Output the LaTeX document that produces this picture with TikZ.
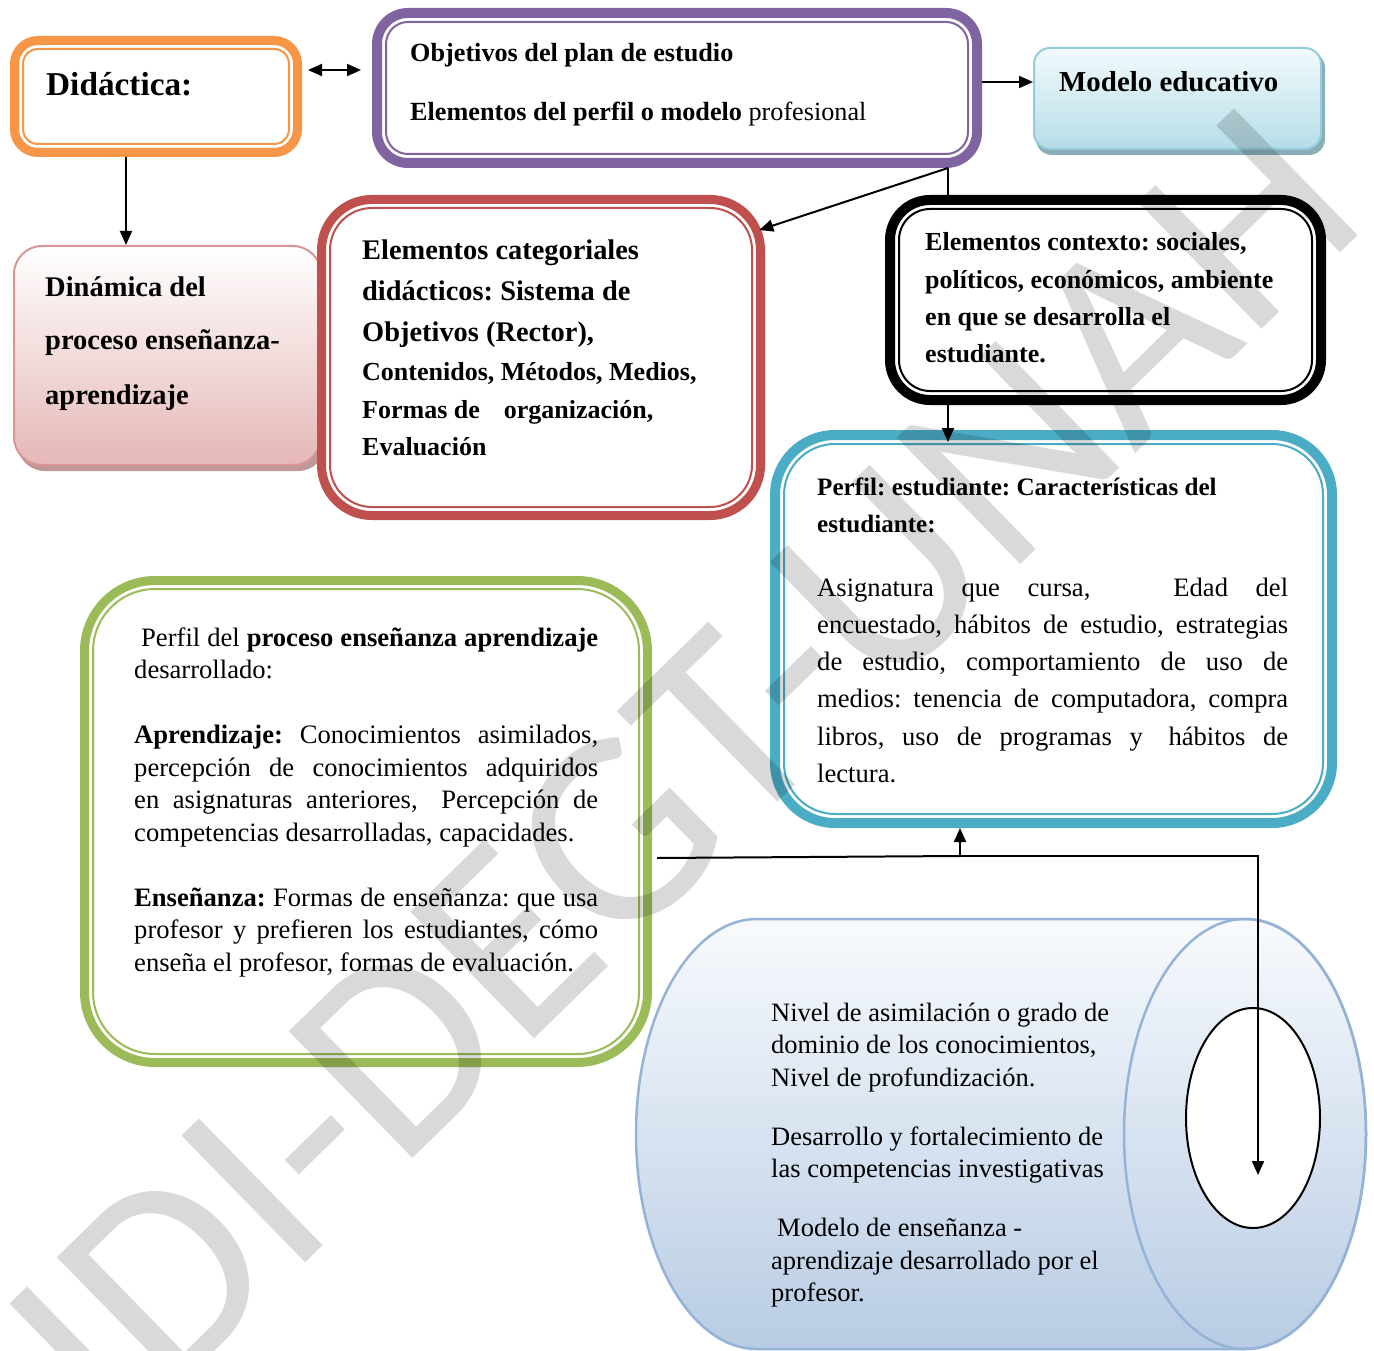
\documentclass[tikz,border=0pt]{standalone}
\usepackage{fontspec}
\setmainfont{Liberation Serif}
\newfontfamily\wmfont{Carlito}
\usetikzlibrary{arrows.meta,shapes.geometric}

\definecolor{orng}{HTML}{F79646}
\definecolor{purp}{HTML}{8064A2}
\definecolor{redc}{HTML}{C0504D}
\definecolor{cyanc}{HTML}{4BACC6}
\definecolor{grn}{HTML}{9BBB59}
\definecolor{mdtop}{HTML}{F2FAFC}
\definecolor{mdbot}{HTML}{B6DDE8}
\definecolor{mdline}{HTML}{93CDDD}
\definecolor{mdshad}{HTML}{8AAEB8}
\definecolor{pktop}{HTML}{FFFFFF}
\definecolor{pkbot}{HTML}{E5B8B7}
\definecolor{pkline}{HTML}{D99694}
\definecolor{pkshad}{HTML}{BF9796}
\definecolor{cytop}{HTML}{F8FAFD}
\definecolor{cybot}{HTML}{B8CCE4}
\definecolor{cyline}{HTML}{95B3D7}
\definecolor{wmgray}{HTML}{D9D9D9}

% one justified line of fixed width
\newcommand\jl[1]{\makebox[\linewidth][s]{#1}}

% thick-thin rounded frame: name, x1, y1, x2, y2, colour, thick width, outer radius
\newcommand\dfrm[8]{%
  \pgfmathsetmacro\dfw{#4-#2-#7}%
  \pgfmathsetmacro\dfh{#5-#3-#7}%
  \pgfmathsetmacro\dfr{#8-#7/2}%
  \pgfmathsetmacro\dfir{#8-#7-4}%
  \pgfmathsetmacro\dfcx{(#2+#4)/2}%
  \pgfmathsetmacro\dfcy{(#3+#5)/2}%
  \node[draw=#6, line width=#7pt, rounded corners=\dfr pt, fill=white,
        minimum width=\dfw pt, minimum height=\dfh pt, inner sep=0pt] (#1) at (\dfcx,\dfcy) {};
  \draw[#6, line width=2pt, rounded corners=\dfir pt]
        ({#2+#7+4},{#3+#7+4}) rectangle ({#4-#7-4},{#5-#7-4});
}

\tikzset{
  txt/.style={inner sep=0pt, anchor=base west, align=left},
  ln/.style={line width=2pt, draw=black},
  arr/.style={ln, -{Triangle[length=14pt,width=12pt]}},
  dbl/.style={ln, {Triangle[length=14pt,width=12pt]}-{Triangle[length=14pt,width=12pt]}},
  softbox/.style={line width=2pt, inner sep=0pt},
}

\begin{document}
\frenchspacing
\begin{tikzpicture}[x=1pt,y=-1pt]
\useasboundingbox (0,0) rectangle (1374,1351);
\fill[white] (0,0) rectangle (1374,1351);

% shaded boxes with a drop shadow
\fill[pkshad, rounded corners=28pt] (17,251) rectangle (326,471);
\node[softbox, draw=pkline, rounded corners=28pt, top color=pktop, bottom color=pkbot,
      minimum width=307pt, minimum height=219pt] (pink) at (167.5,355.5) {};
\fill[mdshad, rounded corners=16pt] (1036,52) rectangle (1325,155);
\node[softbox, draw=mdline, rounded corners=16pt, top color=mdtop, bottom color=mdbot,
      minimum width=287pt, minimum height=101pt] (model) at (1177.5,98.5) {};

% framed boxes
\dfrm{dida}{10}{36}{302}{157}{orng}{9}{28}
\dfrm{plan}{372}{8}{982}{168}{purp}{10}{36}
\dfrm{cat}{317}{195}{765}{520}{redc}{9}{55}
\dfrm{ctx}{885}{195}{1326}{405}{black}{10}{45}
\dfrm{stud}{770}{430}{1337}{828}{cyanc}{10}{65}
\dfrm{proc}{80}{576}{652}{1067}{grn}{9}{75}

% cylinder
\shade[top color=cytop, bottom color=cybot]
  (757,919) -- (1245,919) arc[start angle=90, end angle=-90, x radius=121pt, y radius=215pt]
  -- (757,1349) arc[start angle=270, end angle=90, x radius=121pt, y radius=215pt] -- cycle;
\draw[cyline, line width=2.5pt]
  (757,919) -- (1245,919) arc[start angle=90, end angle=-90, x radius=121pt, y radius=215pt]
  -- (757,1349) arc[start angle=270, end angle=90, x radius=121pt, y radius=215pt] -- cycle;
\draw[cyline, line width=2.5pt] (1245,1134) ellipse [x radius=121pt, y radius=215pt];
\node[ellipse, draw, line width=2pt, fill=white, minimum width=134pt, minimum height=220pt,
      inner sep=0pt] (hole) at (1253,1118) {};

% watermark
\begin{scope}[blend mode=multiply]
\node[rotate=44.3, text=wmgray, inner sep=0pt] (wm) at (683,771)
  {\wmfont\fontsize{276}{276}\selectfont IDI-DEGT-UNAH};
\end{scope}

% texts
\node[txt] (t-dida) at (46,96) {\fontsize{33.3}{40}\selectfont\bfseries Didáctica:};
\node[txt] (t-plan) at (410,62) {\parbox[t]{560pt}{\fontsize{26.2}{59}\selectfont
  \textbf{Objetivos del plan de estudio}\\
  \textbf{Elementos del perfil o modelo} profesional}};
\node[txt] (t-model) at (1059,92) {\fontsize{28.9}{34}\selectfont\bfseries Modelo educativo};
\node[txt] (t-pink) at (45,296) {\parbox[t]{270pt}{\bfseries\fontsize{28.5}{54}\selectfont
  Dinámica del\\proceso enseñanza-\\aprendizaje}};
\node[txt] (t-cat) at (362,260) {\parbox[t]{380pt}{\bfseries\fontsize{28.4}{41}\selectfont
  Elementos categoriales\\didácticos: Sistema de\\Objetivos (Rector),\par\vspace{1.5pt}
  \fontsize{26}{37.5}\selectfont
  Contenidos, Métodos, Medios,\\Formas de\hspace*{24pt}organización,\\Evaluación}};
\node[txt] (t-ctx) at (925,251) {\parbox[t]{380pt}{\bfseries\fontsize{26}{37.3}\selectfont
  Elementos contexto: sociales,\\políticos, económicos, ambiente\\en que se desarrolla el\\estudiante.}};
\node[txt] (t-stud) at (817,495) {\parbox[t]{471pt}{\bfseries\fontsize{25.1}{37}\selectfont
  Perfil: estudiante: Características del\\estudiante:\par\vspace{27pt}
  \mdseries\fontsize{26.6}{37.2}\selectfont
  \jl{Asignatura\hfill que\hfill cursa,\hfill\hfill\hfill Edad\hfill del}\\
  \jl{encuestado, hábitos de estudio, estrategias}\\
  \jl{de estudio, comportamiento de uso de}\\
  \jl{medios: tenencia de computadora, compra}\\
  \jl{libros, uso de programas y\hspace{8pt} hábitos de}\\
  lectura.}};
\node[txt] (t-proc) at (134,646) {\parbox[t]{464pt}{\fontsize{26.6}{32.5}\selectfont
  \jl{\hspace*{7pt}Perfil del \textbf{proceso enseñanza aprendizaje}}\\
  desarrollado:\\[32.5pt]
  \jl{\textbf{Aprendizaje:} Conocimientos asimilados,}\\
  \jl{percepción de conocimientos adquiridos}\\
  \jl{en asignaturas anteriores,\hspace{10pt} Percepción de}\\
  competencias desarrolladas, capacidades.\\[32.5pt]
  \jl{\textbf{Enseñanza:} Formas de enseñanza: que usa}\\
  \jl{profesor y prefieren los estudiantes, cómo}\\
  enseña el profesor, formas de evaluación.}};
\node[txt] (t-cyl) at (771,1021) {\parbox[t]{380pt}{\raggedright\fontsize{26.5}{32.5}\selectfont
  Nivel de asimilación o grado de\\dominio de los conocimientos,\\Nivel de profundización.\\[26.5pt]
  Desarrollo y fortalecimiento de\\las competencias investigativas\\[26.5pt]
  \hspace*{6pt}Modelo de enseñanza -\\aprendizaje desarrollado por el\\profesor.}};

% connectors
\draw[dbl, shorten >=11pt] ([xshift=6pt,yshift=26.5pt]dida.east) -- ([yshift=26.5pt]dida.east -| plan.west);
\draw[arr] ([yshift=6pt]plan.east) -- ([yshift=6pt]plan.east -| model.west);
\draw[arr] ([xshift=-30pt]dida.south) -- ([xshift=-30pt]dida.south |- pink.north);
\coordinate (split) at ([xshift=271pt]plan.south);
\draw[ln] (split) -- (split |- ctx.north);
\draw[arr, shorten >=-6pt] (split) -- (cat.30);
\draw[arr, shorten >=-12pt] (split |- ctx.south) -- (split |- stud.north);
\coordinate (gout) at (657,858);
\coordinate (junc) at (960,856);
\coordinate (turn) at (1258,856);
\coordinate (tip) at (1258,1175);
\draw[ln] (gout) -- (junc);
\draw[arr] (junc) -- (junc |- stud.south);
\draw[arr] (junc) -- (turn) -- (tip);
\end{tikzpicture}
\end{document}
